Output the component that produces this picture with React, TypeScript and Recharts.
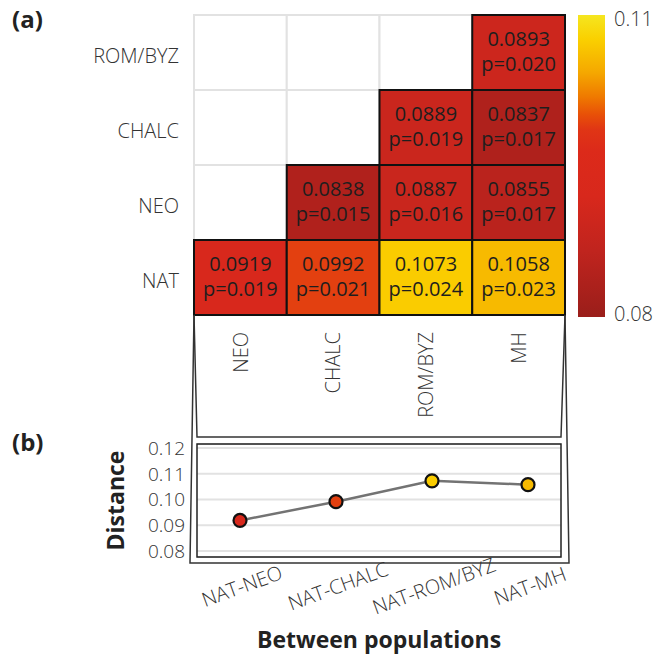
import React from 'react';
import {
  ScatterChart, Scatter, XAxis, YAxis, ReferenceArea,
  LineChart, Line, CartesianGrid, Label,
} from 'recharts';

// heatmap axes (rows listed bottom to top)
const colNames = ['NEO', 'CHALC', 'ROM/BYZ', 'MH'];
const rowNames = ['NAT', 'NEO', 'CHALC', 'ROM/BYZ'];

// pairwise distances, null = empty cell
const distNAT = [0.0919, 0.0992, 0.1073, 0.1058];
const distNEO = [null, 0.0838, 0.0887, 0.0855];
const distCHALC = [null, null, 0.0889, 0.0837];
const distROM = [null, null, null, 0.0893];

const pNAT = [0.019, 0.021, 0.024, 0.023];
const pNEO = [null, 0.015, 0.016, 0.017];
const pCHALC = [null, null, 0.019, 0.017];
const pROM = [null, null, null, 0.02];

// panel (b)
const pairLabels = ['NAT-NEO', 'NAT-CHALC', 'NAT-ROM/BYZ', 'NAT-MH'];
const pairDistances = [0.0919, 0.0992, 0.1073, 0.1058];
const distTicks = [0.08, 0.09, 0.1, 0.11, 0.12];

const cbMin = 0.08;
const cbMax = 0.11;
const cbTicks = [0.08, 0.11];

const colorStops: [number, string][] = [
  [0, '#9a1e1a'], [0.22, '#c0241e'], [0.4, '#d8281c'], [0.55, '#dc2a1a'],
  [0.62, '#e03515'], [0.67, '#e85008'], [0.73, '#ef7a00'], [0.81, '#f5a800'],
  [0.92, '#fad000'], [1, '#f5e620'],
];

const hex = (c: string) => [1, 3, 5].map((i) => parseInt(c.slice(i, i + 2), 16));

function colorFor(v: number) {
  const t = Math.max(0, Math.min(1, (v - cbMin) / (cbMax - cbMin)));
  for (let i = 1; i < colorStops.length; i++) {
    const [t1, c1] = colorStops[i];
    const [t0, c0] = colorStops[i - 1];
    if (t <= t1) {
      const f = (t - t0) / (t1 - t0);
      const a = hex(c0), b = hex(c1);
      const rgb = a.map((x, k) => Math.round(x + (b[k] - x) * f));
      return `rgb(${rgb.join(',')})`;
    }
  }
  return colorStops[colorStops.length - 1][1];
}

const FONT = '"Open Sans", sans-serif';

const distRows = [distNAT, distNEO, distCHALC, distROM];
const pRows = [pNAT, pNEO, pCHALC, pROM];

const cells: { row: number; col: number; v: number; p: number; x: number; y: number }[] = [];
distRows.forEach((r, row) =>
  r.forEach((v, col) => {
    if (v != null) cells.push({ row, col, v, p: pRows[row][col] as number, x: col + 0.5, y: row + 0.5 });
  })
);

const blank: { row: number; col: number }[] = [];
rowNames.forEach((_, row) => colNames.forEach((__, col) => blank.push({ row, col })));

const lineData = pairLabels.map((name, i) => ({ name, d: pairDistances[i] }));

function CellText(props: any) {
  const { viewBox, v, p } = props;
  if (!viewBox) return null;
  const cx = viewBox.x + viewBox.width / 2;
  const cy = viewBox.y + viewBox.height / 2;
  return (
    <g fontFamily={FONT} fontSize={20} fill="#1e1e1e" textAnchor="middle">
      <text x={cx} y={cy - 7}>{v.toFixed(4)}</text>
      <text x={cx} y={cy + 18}>{`p=${p.toFixed(3)}`}</text>
    </g>
  );
}

function HeatXTick(props: any) {
  const { x, y, payload } = props;
  return (
    <text x={x} y={y} dy="0.36em" transform={`rotate(-90, ${x}, ${y})`} textAnchor="end"
      fontFamily={FONT} fontSize={20} fontWeight={300} fill="#333">
      {colNames[Math.floor(payload.value)]}
    </text>
  );
}

function HeatYTick(props: any) {
  const { x, y, payload } = props;
  return (
    <text x={x} y={y} dy="0.5em" textAnchor="end" fontFamily={FONT} fontSize={20} fontWeight={300} fill="#333">
      {rowNames[Math.floor(payload.value)]}
    </text>
  );
}

function PairTick(props: any) {
  const { x, y, payload } = props;
  return (
    <text x={x + 2} y={y} dy="0.36em" transform={`rotate(-20, ${x + 2}, ${y})`} textAnchor="middle"
      fontFamily={FONT} fontSize={20} fontWeight={300} fill="#333">
      {payload.value}
    </text>
  );
}

function Dot(props: any) {
  const { cx, cy, payload } = props;
  if (cx == null || cy == null) return null;
  return <circle cx={cx} cy={cy} r={6.5} fill={colorFor(payload.d)} stroke="#111" strokeWidth={2.2} />;
}

export default function App() {
  const cbTop = 15;
  const cbBottom = 317;
  const cbY = (v: number) => cbBottom - ((v - cbMin) / (cbMax - cbMin)) * (cbBottom - cbTop);
  return (
    <div style={{ position: 'absolute', left: 0, top: 0, width: 655, height: 659, background: '#fff', fontFamily: FONT }}>
      <div style={{ position: 'absolute', left: 0, top: 0 }}>
        <ScatterChart width={655} height={440} margin={{ top: 15, right: 90, bottom: 0, left: 0 }}>
          <XAxis type="number" dataKey="x" domain={[0, 4]} ticks={[0.5, 1.5, 2.5, 3.5]}
            axisLine={false} tickLine={false} tickSize={0} tickMargin={17} height={125}
            tick={<HeatXTick />} interval={0} />
          <YAxis type="number" dataKey="y" domain={[0, 4]} ticks={[0.5, 1.5, 2.5, 3.5]}
            axisLine={false} tickLine={false} tickSize={0} tickMargin={15} width={194}
            tick={<HeatYTick />} interval={0} />
          {blank.map((c) => (
            <ReferenceArea key={`b${c.row}-${c.col}`} x1={c.col} x2={c.col + 1} y1={c.row} y2={c.row + 1}
              fill="#fff" fillOpacity={1} stroke="#e2e2e2" strokeWidth={2} ifOverflow="visible" />
          ))}
          {cells.map((c) => (
            <ReferenceArea key={`c${c.row}-${c.col}`} x1={c.col} x2={c.col + 1} y1={c.row} y2={c.row + 1}
              fill={colorFor(c.v)} fillOpacity={1} stroke="#111" strokeWidth={2} ifOverflow="visible"
              label={<CellText v={c.v} p={c.p} />} />
          ))}
          <Scatter data={cells} isAnimationActive={false} shape={() => <g />} />
        </ScatterChart>
      </div>
      <div style={{ position: 'absolute', left: 0, top: 430 }}>
        <LineChart width={655} height={229} data={lineData} margin={{ top: 14, right: 94, bottom: 0, left: 35 }}>
          <CartesianGrid horizontal vertical={false} stroke="#e2e2e2" strokeWidth={2} />
          <XAxis dataKey="name" axisLine={false} tickLine={false} tickSize={0} tickMargin={29}
            height={102} padding={{ left: 43, right: 33 }} tick={<PairTick />} interval={0}>
            <Label value="Between populations" position="insideBottom" offset={11}
              style={{ fontFamily: FONT, fontSize: 23, fontWeight: 700, fill: '#222' }} />
          </XAxis>
          <YAxis type="number" domain={[0.0777, 0.1216]} ticks={distTicks} allowDataOverflow interval={0}
            axisLine={false} tickLine={false} tickSize={0} tickMargin={12} width={162}
            tickFormatter={(v: number) => v.toFixed(2)}
            tick={{ fontFamily: FONT, fontSize: 19, fontWeight: 300, fill: '#333' }}>
            <Label value="Distance" angle={-90} position="center"
              style={{ fontFamily: FONT, fontSize: 23, fontWeight: 700, fill: '#222', textAnchor: 'middle' }} />
          </YAxis>
          <Line type="linear" dataKey="d" stroke="#737373" strokeWidth={2.5} dot={<Dot />}
            activeDot={false} isAnimationActive={false} />
        </LineChart>
      </div>
      <svg width={655} height={659} style={{ position: 'absolute', left: 0, top: 0, pointerEvents: 'none' }}>
        <defs>
          <linearGradient id="cbGrad" x1="0" y1="1" x2="0" y2="0">
            {colorStops.map(([t, c]) => (
              <stop key={t} offset={t} stopColor={c} />
            ))}
          </linearGradient>
        </defs>
        <text x={12} y={28} fontFamily={FONT} fontSize={24} fontWeight={700} fill="#222">(a)</text>
        <text x={12} y={451} fontFamily={FONT} fontSize={24} fontWeight={700} fill="#222">(b)</text>
        <rect x={578} y={cbTop} width={27} height={cbBottom - cbTop} fill="url(#cbGrad)" />
        {cbTicks.map((t) => (
          <text key={t} x={614} y={cbY(t)} dy={t === cbMax ? '0.55em' : '0.2em'}
            fontFamily={FONT} fontSize={20} fontWeight={300} fill="#333">{t.toFixed(2)}</text>
        ))}
        <polyline points="194,315 197,437 561,437 565,315" fill="none" stroke="#333" strokeWidth={1.5} />
        <polyline points="194,315 190,563 569,563 565,315" fill="none" stroke="#333" strokeWidth={1.5} />
        <rect x={197} y={444} width={364} height={113} fill="none" stroke="#222" strokeWidth={1.5} />
      </svg>
    </div>
  );
}
